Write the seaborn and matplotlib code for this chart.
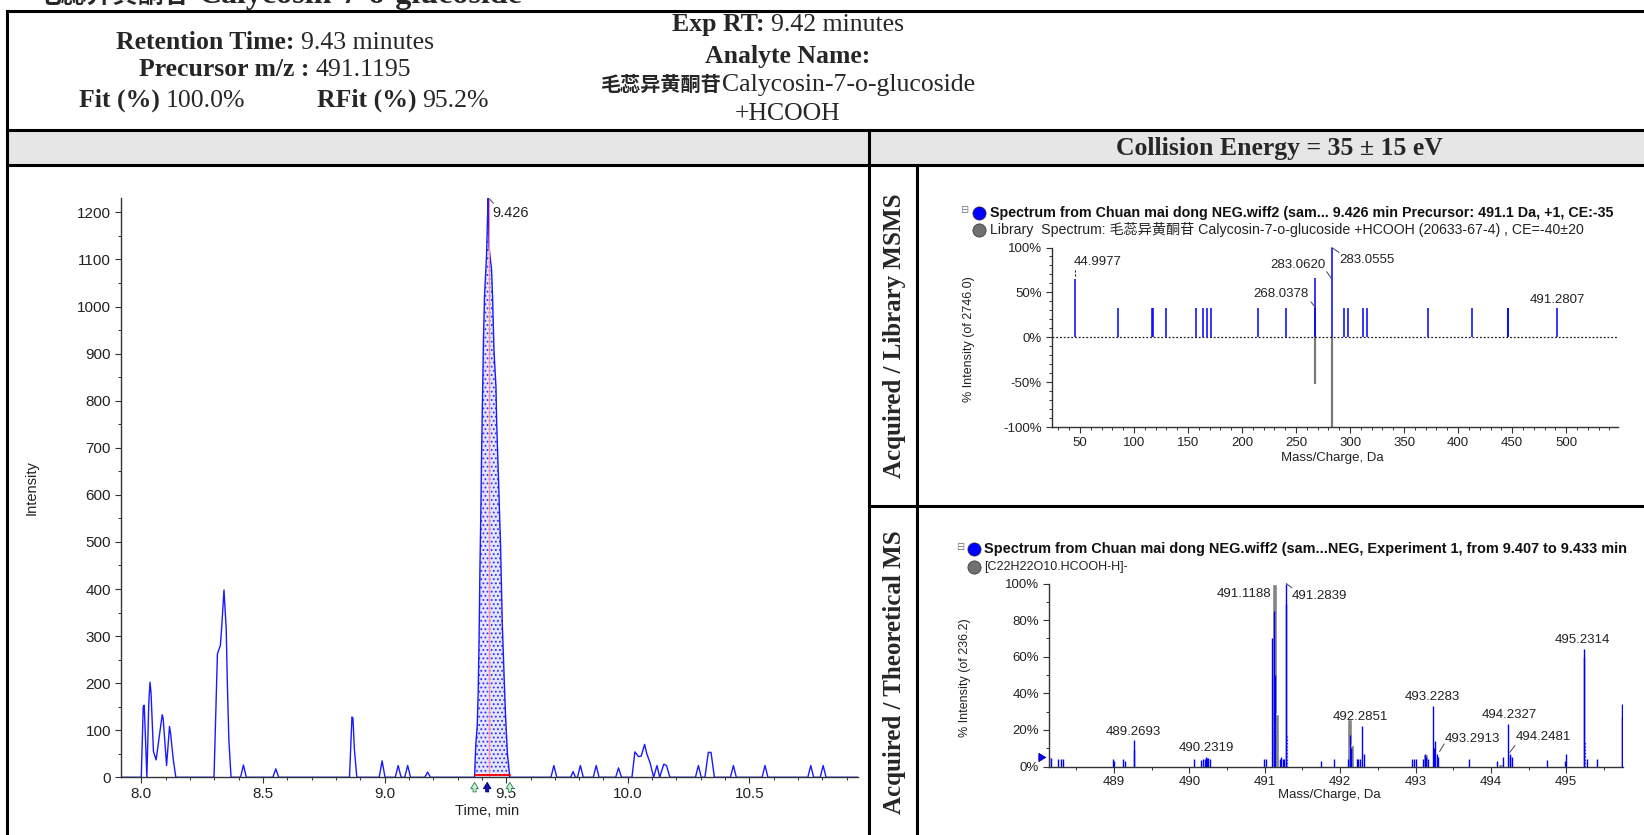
import matplotlib
matplotlib.use("Agg")
import matplotlib.pyplot as plt
from matplotlib.lines import Line2D
from matplotlib.patches import Rectangle
from matplotlib.ticker import MultipleLocator, FuncFormatter
import pandas as pd
import seaborn as sns

# ---------------- data ----------------
# XIC chromatogram (time in min, intensity)
chrom_time = [7.915, 8.000, 8.008, 8.012, 8.016, 8.023, 8.031, 8.036, 8.040, 8.050, 8.061, 8.086, 8.090,
              8.104, 8.116, 8.120, 8.131, 8.142,
              8.299, 8.307, 8.313, 8.325, 8.329, 8.340, 8.343, 8.349, 8.354, 8.360, 8.369,
              8.408, 8.420, 8.432, 8.541, 8.553, 8.565,
              8.856, 8.866, 8.870, 8.876, 8.886,
              8.978, 8.990, 9.002, 9.044, 9.056, 9.068, 9.083, 9.095, 9.107, 9.165, 9.177, 9.189,
              9.370, 9.375, 9.381, 9.385, 9.389, 9.392, 9.396, 9.399, 9.403, 9.407, 9.411, 9.419,
              9.423, 9.426, 9.430, 9.440, 9.444, 9.450, 9.458, 9.461, 9.468, 9.477, 9.484, 9.492,
              9.497, 9.505, 9.515,
              9.684, 9.696, 9.708, 9.765, 9.775, 9.785, 9.793, 9.805, 9.817, 9.858, 9.870, 9.882,
              9.950, 9.962, 9.974,
              10.017, 10.029, 10.044, 10.055, 10.069, 10.078, 10.092, 10.106, 10.120, 10.131,
              10.148, 10.159, 10.173,
              10.278, 10.290, 10.302, 10.317, 10.331, 10.342, 10.356,
              10.422, 10.434, 10.446, 10.552, 10.564, 10.576,
              10.740, 10.752, 10.764, 10.791, 10.803, 10.815, 10.945]
chrom_int = [0, 0, 150, 153, 100, 0, 160, 202, 180, 55, 37, 133, 125,
             25, 108, 95, 40, 0,
             0, 150, 262, 280, 306, 398, 370, 317, 196, 80, 0,
             0, 26, 0, 0, 18, 0,
             0, 128, 126, 60, 0,
             0, 35, 0, 0, 25, 0, 0, 25, 0, 0, 11, 0,
             0, 69, 110, 181, 310, 440, 569, 692, 814, 939, 1024, 1105,
             1183, 1230, 1124, 1078, 1021, 905, 830, 753, 640, 490, 327, 207,
             136, 51, 0,
             0, 25, 0, 0, 12, 0, 0, 25, 0, 0, 25, 0,
             0, 20, 0,
             0, 54, 44, 45, 70, 50, 30, 0, 25, 0,
             28, 25, 0,
             0, 25, 0, 0, 53, 53, 0,
             0, 25, 0, 0, 25, 0,
             0, 25, 0, 0, 25, 0, 0]
peak_start, peak_apex, peak_end = 9.370, 9.426, 9.515
peak_rt = 9.43

# MS/MS: acquired (up) vs library (down), % intensity
msms_mz = [44.9977, 85.2, 116.3, 117.5, 130.0, 157.0, 164.0, 168.0, 171.5, 214.5, 241.0,
           267.7, 268.0378, 283.0555, 294.0, 298.0, 312.0, 315.4, 372.0, 412.5, 446.0, 446.6, 491.2807]
msms_int = [65, 33, 33, 33, 33, 33, 33, 33, 33, 33, 33,
            66, 33, 100, 33, 33, 33, 33, 33, 33, 33, 33, 33]
lib_mz = [268.0, 283.06]
lib_int = [-52, -100]
msms_labels = ["44.9977", "283.0620", "283.0555", "268.0378", "491.2807"]
msms_label_x = [66.4, 251.6, 315.6, 236.0, 492.0]
msms_label_y = [83.5, 81, 86, 48, 42]

# MS: acquired (blue) vs theoretical isotope pattern (grey)
ms_mz = [488.14, 488.16, 488.26, 488.30, 488.32, 488.98, 489.00, 489.12, 489.14, 489.26, 489.2693,
         490.06, 490.15, 490.18, 490.20, 490.22, 490.2319, 490.25, 490.27, 490.99, 491.01,
         491.10, 491.1188, 491.13, 491.20, 491.22, 491.24, 491.26, 491.275, 491.2839,
         491.74, 491.92, 492.10, 492.13, 492.14, 492.22, 492.24, 492.26, 492.2851, 492.31,
         492.96, 492.98, 493.00, 493.10, 493.12, 493.14, 493.16, 493.2283, 493.24, 493.26,
         493.2913, 493.30, 493.71, 494.08, 494.16, 494.2327, 494.2481, 494.26, 494.28, 494.75,
         494.98, 495.00, 495.2314, 495.24, 495.27, 495.41, 495.74, 495.745]
ms_int = [5, 4.5, 4, 4, 4, 4, 3, 4, 3, 9, 14.5,
          4, 3.5, 4, 4, 5, 4.5, 4.5, 4, 4, 4,
          70, 85, 50, 4, 5, 4, 4, 89, 100,
          3, 4, 4, 17, 10, 4, 4, 4, 22, 7,
          4, 4, 4, 4, 7, 5, 4, 33, 10, 14,
          7, 5, 4, 3, 5, 23, 7, 6, 5, 3.5,
          3, 7, 64, 60, 4, 4, 34, 27]
ms_dot_mz = [491.125, 491.30, 495.25]
ms_dot_int = [22, 18, 14]
theo_mz = [491.125, 491.16, 492.128, 492.158, 493.13, 494.13]
theo_int = [100, 29, 26, 12, 7, 1.5]
ms_labels = ["489.2693", "490.2319", "491.1188", "491.2839", "492.2851",
             "493.2283", "493.2913", "494.2327", "494.2481", "495.2314"]
ms_label_x = [489.25, 490.23, 490.72, 491.73, 492.27, 493.22, 493.75, 494.24, 494.70, 495.22]
ms_label_y = [19, 10, 94, 93, 27, 38, 15, 28, 16, 69]

# ---------------- figure ----------------
W, H = 1644, 835
sns.set_style("ticks")
plt.rcParams["font.family"] = ["Liberation Sans", "Noto Sans CJK SC", "DejaVu Sans"]
fig = plt.figure(figsize=(W / 100, H / 100), dpi=100)
renderer = fig.canvas.get_renderer()
serif = ["Liberation Serif", "Noto Sans CJK SC", "DejaVu Sans"]
cjk = ["Noto Sans CJK SC", "DejaVu Sans"]
TICK = "#222222"


def fx(x):
    return x / W


def fy(y):
    return 1 - y / H


def box(l, t, r, b):
    return [l / W, 1 - b / H, (r - l) / W, (b - t) / H]


def seg(x0, y0, x1, y1, lw=2.2):
    fig.add_artist(Line2D([fx(x0), fx(x1)], [fy(y0), fy(y1)], color="black", lw=lw,
                          transform=fig.transFigure, solid_capstyle="projecting"))


def line_text(parts, x, y, ha="center"):
    arts = [fig.text(0, fy(y), s, ha="left", va="baseline", **kw) for s, kw, _ in parts]
    widths = [a.get_window_extent(renderer).width + g for a, (_, _, g) in zip(arts, parts)]
    cur = x - sum(widths) / 2 if ha == "center" else x
    for a, (_, _, g), w in zip(arts, parts, widths):
        a.set_x(fx(cur + g))
        cur += w


def fit_text(s, x0, x1, y, **kw):
    t = fig.text(fx(x0), fy(y), s, ha="left", va="center", size=9, **kw)
    w = t.get_window_extent(renderer).width
    t.set_size(9 * (x1 - x0) / w)


# ---------------- table frame ----------------
fig.add_artist(Rectangle((fx(7), fy(164.6)), fx(W) - fx(7), (164.6 - 130) / H,
                         transform=fig.transFigure, color="#e6e6e6", zorder=0))
seg(7, 10.5, W + 5, 10.5)
seg(7, 10.5, 7, H + 5)
seg(7, 130, W + 5, 130)
seg(7, 164.6, W + 5, 164.6)
seg(869, 130, 869, H + 5)
seg(917, 164.6, 917, H + 5)
seg(869, 506, W + 5, 506)

B = dict(family=serif, weight="bold", size=18.5)
R = dict(family=serif, size=18.5)
# page heading, cut off by the top edge as in the report screenshot
line_text([("毛蕊异黄酮苷", dict(family=cjk, weight="bold", size=18.5), 0),
           ("Calycosin-7-o-glucoside", dict(family=serif, weight="bold", size=23), 8)], 36, 2.5, ha="left")
line_text([("Retention Time:", B, 0), ("9.43 minutes", R, 6)], 275, 49)
line_text([("Precursor m/z :", B, 0), ("491.1195", R, 6)], 275, 76)
line_text([("Fit (%)", B, 0), ("100.0%", R, 6)], 79, 107, ha="left")
line_text([("RFit (%)", B, 0), ("95.2%", R, 6)], 317, 107, ha="left")
line_text([("Exp RT:", B, 0), ("9.42 minutes", R, 6)], 788, 31)
line_text([("Analyte Name:", B, 0)], 788, 63.5)
line_text([("毛蕊异黄酮苷", dict(family=cjk, weight="bold", size=14.5), 0),
           ("Calycosin-7-o-glucoside", R, 0)], 788, 91)
line_text([("+HCOOH", R, 0)], 788, 120)
line_text([("Collision Energy = 35 ± 15 eV", B, 0)], 1279, 155)
fig.text(fx(894), fy(335.5), "Acquired / Library MSMS", rotation=90, ha="center", va="center",
         family=serif, weight="bold", size=18)
fig.text(fx(894), fy(672), "Acquired / Theoretical MS", rotation=90, ha="center", va="center",
         family=serif, weight="bold", size=18)


def style_axes(ax, fs):
    sns.despine(ax=ax)
    for side in ("left", "bottom"):
        ax.spines[side].set_color("#333333")
        ax.spines[side].set_linewidth(1.0)
    ax.tick_params(which="major", direction="out", length=4, width=0.8, color="#333333",
                   labelsize=fs, labelcolor=TICK, pad=3)
    ax.tick_params(which="minor", direction="out", length=2.5, width=0.7, color="#333333")
    ax.set_facecolor("white")


# ---------------- chromatogram ----------------
ax_c = fig.add_axes(box(120.6, 198.3, 857.7, 777.3))
df = pd.DataFrame({"time": chrom_time, "intensity": chrom_int})
sns.lineplot(data=df, x="time", y="intensity", sort=False, estimator=None, color="#1a1aff",
             lw=1.0, ax=ax_c)
pk = df[(df.time >= peak_start) & (df.time <= peak_end)]
plt.rcParams["hatch.linewidth"] = 0.8
ax_c.fill_between(pk.time, 0, pk.intensity, facecolor="#e4e4ff", edgecolor="#3030ff",
                  hatch="....", lw=0, zorder=1)
ax_c.plot([peak_rt, peak_rt], [0, df.intensity.max()], color="#ff9090", lw=0.8, zorder=2)
ax_c.plot([peak_start, peak_end], [4, 4], color="red", lw=1.3, zorder=3, clip_on=False)
ax_c.set_xlim(7.915, 10.945)
ax_c.set_ylim(0, 1230)
ax_c.xaxis.set_major_locator(MultipleLocator(0.5))
ax_c.xaxis.set_minor_locator(MultipleLocator(0.1))
ax_c.xaxis.set_major_formatter(FuncFormatter(lambda v, p: f"{v:.1f}"))
ax_c.yaxis.set_major_locator(MultipleLocator(100))
ax_c.yaxis.set_minor_locator(MultipleLocator(50))
style_axes(ax_c, 11)
ax_c.set_xlabel("Time, min", fontsize=10.5, color=TICK)
ax_c.set_ylabel("Intensity", fontsize=10.5, color=TICK)
ax_c.xaxis.set_label_coords(0.497, -0.046)
ax_c.yaxis.set_label_coords(-0.111, 0.5)
ax_c.annotate("", xy=(9.455, 1215), xytext=(peak_apex, 1232),
              arrowprops=dict(arrowstyle="-", color="#444444", lw=0.7), annotation_clip=False)
ax_c.text(9.444, 1199, f"{peak_apex:.3f}", ha="left", va="center", fontsize=10.5, color=TICK)
xt = ax_c.get_xaxis_transform()
for xv, fc, ec in [(peak_start, "#c8f5d0", "#2e7d4a"), (peak_end, "#c8f5d0", "#2e7d4a"),
                   (9.422, "#1010c0", "#000060")]:
    ax_c.annotate("", xy=(xv, -0.004), xytext=(xv, -0.030), xycoords=xt, textcoords=xt,
                  arrowprops=dict(arrowstyle="simple,head_width=0.55,head_length=0.45,tail_width=0.22",
                                  fc=fc, ec=ec, lw=0.6), annotation_clip=False)

# ---------------- MS/MS ----------------
ax_m = fig.add_axes(box(1051.6, 247.5, 1618, 427))
ax_m.vlines(msms_mz, 0, msms_int, color="#0000ff", lw=1.1)
ax_m.vlines(lib_mz, 0, lib_int, color="#7a7a7a", lw=1.6)
ax_m.axhline(0, color="#222222", ls=(0, (1.5, 1.5)), lw=0.9)
for s, xv, yv in zip(msms_labels, msms_label_x, msms_label_y):
    ax_m.text(xv, yv, s, ha="center", va="center", fontsize=9.5, color=TICK)
ax_m.plot([45, 45], [68, 75], color="#222222", lw=0.8, ls=(0, (2, 1.5)))
ax_m.plot([283.06, 289.8], [100, 94.5], color="#444444", lw=0.7, clip_on=False)
ax_m.plot([278.4, 283.06], [73, 65], color="#444444", lw=0.7)
ax_m.plot([263.8, 268.04], [39.5, 33], color="#444444", lw=0.7)
ax_m.set_xlim(23.8, 548)
ax_m.set_ylim(-100, 100)
ax_m.xaxis.set_major_locator(MultipleLocator(50))
ax_m.xaxis.set_minor_locator(MultipleLocator(10))
ax_m.set_xticks(range(50, 501, 50))
ax_m.yaxis.set_major_locator(MultipleLocator(50))
ax_m.yaxis.set_minor_locator(MultipleLocator(10))
ax_m.yaxis.set_major_formatter(FuncFormatter(lambda v, p: f"{v:.0f}%"))
style_axes(ax_m, 9.5)
ax_m.set_xlabel("Mass/Charge, Da", fontsize=9.5, color=TICK)
ax_m.set_ylabel("% Intensity (of 2746.0)", fontsize=9, color=TICK)
ax_m.xaxis.set_label_coords(0.496, -0.139)
ax_m.yaxis.set_label_coords(-0.135, 0.49)

# ---------------- MS ----------------
ax_s = fig.add_axes(box(1048.6, 583.5, 1622.7, 766.6))
ax_s.bar(theo_mz, theo_int, width=0.062, color="#858585", zorder=1)
ax_s.vlines(ms_mz, 0, ms_int, color="#0000ff", lw=1.0, zorder=2)
ax_s.vlines(ms_dot_mz, 0, ms_dot_int, color="#2020ff", lw=0.9, ls=":", zorder=2)
for s, xv, yv in zip(ms_labels, ms_label_x, ms_label_y):
    ax_s.text(xv, yv, s, ha="center", va="center", fontsize=9.5, color=TICK)
ax_s.plot([491.284, 491.36], [100, 97.6], color="#444444", lw=0.7, clip_on=False)
ax_s.plot([493.32, 493.38], [8.2, 12.4], color="#444444", lw=0.7)
ax_s.plot([494.25, 494.32], [7.7, 11.5], color="#444444", lw=0.7)
ax_s.set_xlim(488.13, 495.75)
ax_s.set_ylim(0, 100)
ax_s.xaxis.set_major_locator(MultipleLocator(1))
ax_s.xaxis.set_minor_locator(MultipleLocator(0.5))
ax_s.xaxis.set_major_formatter(FuncFormatter(lambda v, p: f"{v:.0f}"))
ax_s.yaxis.set_major_locator(MultipleLocator(20))
ax_s.yaxis.set_minor_locator(MultipleLocator(10))
ax_s.yaxis.set_major_formatter(FuncFormatter(lambda v, p: f"{v:.0f}%"))
style_axes(ax_s, 9.5)
ax_s.set_xlabel("Mass/Charge, Da", fontsize=9.5, color=TICK)
ax_s.set_ylabel("% Intensity (of 236.2)", fontsize=9, color=TICK)
ax_s.xaxis.set_label_coords(0.489, -0.12)
ax_s.yaxis.set_label_coords(-0.135, 0.484)
yt = ax_s.get_yaxis_transform()
ax_s.annotate("", xy=(0.0, 5), xytext=(-0.022, 5), xycoords=yt, textcoords=yt,
              arrowprops=dict(arrowstyle="simple,head_width=0.6,head_length=0.5,tail_width=0.3",
                              fc="#0000ff", ec="#000080", lw=0.5), annotation_clip=False)

# ---------------- spectrum legends ----------------
for cy, col in [(213, "#0000ff"), (229.6, "#707070"), (549.4, "#0000ff"), (567.2, "#707070")]:
    cx = 978.6 if cy < 300 else 973.6
    fig.add_artist(Line2D([fx(cx)], [fy(cy)], marker="o", ms=9.5, mfc=col, mec="#303030", mew=0.5,
                          ls="none", transform=fig.transFigure))
for cx, cy in [(964, 210), (960, 547)]:
    fig.text(fx(cx), fy(cy), "⊟", ha="center", va="center", size=7, color="#777777",
             family=["DejaVu Sans"])
fit_text("Spectrum from Chuan mai dong NEG.wiff2 (sam... 9.426 min Precursor: 491.1 Da, +1, CE:-35",
         989.5, 1613, 213, weight="bold", color="#111111")
fit_text("Library  Spectrum: 毛蕊异黄酮苷 Calycosin-7-o-glucoside +HCOOH (20633-67-4) , CE=-40±20",
         989.5, 1583, 229.6, color="#222222")
fit_text("Spectrum from Chuan mai dong NEG.wiff2 (sam...NEG, Experiment 1, from 9.407 to 9.433 min",
         984.5, 1628, 549.4, weight="bold", color="#111111")
fig.text(fx(984.5), fy(567.2), "[C22H22O10.HCOOH-H]-", ha="left", va="center", size=9, color="#222222")

fig.savefig("out.png", dpi=100)
